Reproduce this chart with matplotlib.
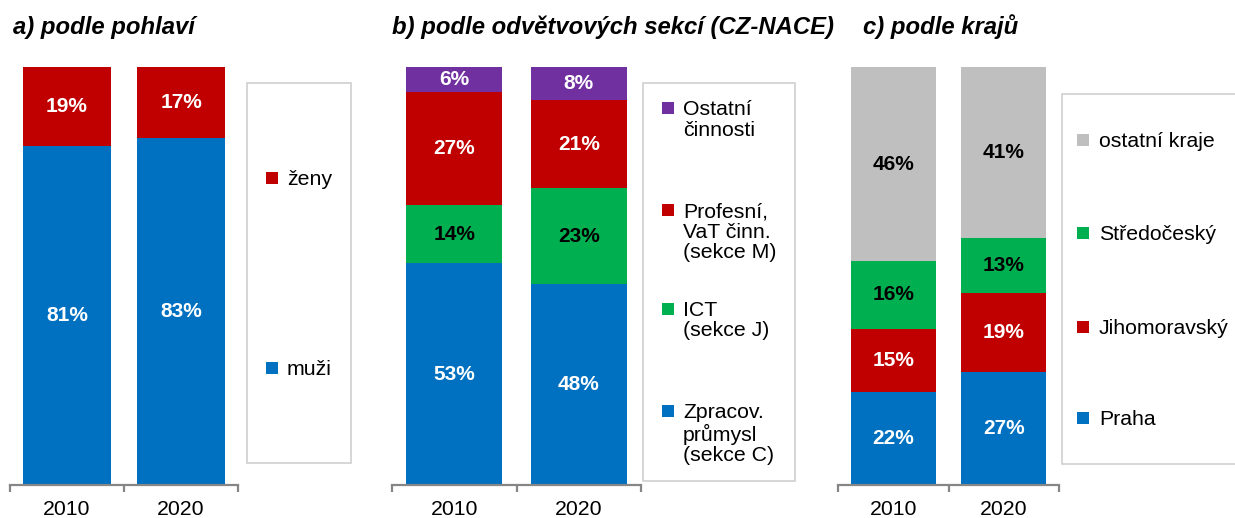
import matplotlib
matplotlib.use("Agg")
import matplotlib.pyplot as plt
from matplotlib.patches import Rectangle

plt.rcParams['font.family'] = ['Liberation Sans', 'DejaVu Sans']

years = ["2010", "2020"]

# a) by gender (bottom -> top)
a_labels = ["muži", "ženy"]
a_values = [[81, 83], [19, 17]]

# b) by NACE section (bottom -> top)
b_labels = ["Zpracov.\nprůmysl\n(sekce C)", "ICT\n(sekce J)",
            "Profesní,\nVaT činn.\n(sekce M)", "Ostatní\nčinnosti"]
b_values = [[53, 48], [14, 23], [27, 21], [6, 8]]

# c) by region (bottom -> top)
c_labels = ["Praha", "Jihomoravský", "Středočeský", "ostatní kraje"]
c_values = [[22, 27], [15, 19], [16, 13], [46, 41]]

titles = ["a) podle pohlaví", "b) podle odvětvových sekcí (CZ-NACE)", "c) podle krajů"]

BLUE = "#0070C0"
RED = "#C00000"
GREEN = "#00B050"
PURPLE = "#7030A0"
GRAY = "#BFBFBF"

a_colors = [BLUE, RED]
b_colors = [BLUE, GREEN, RED, PURPLE]
c_colors = [BLUE, RED, GREEN, GRAY]
a_txt = ["white", "white"]
b_txt = ["white", "black", "white", "white"]
c_txt = ["white", "white", "black", "black"]

W, H = 1235, 518
fig = plt.figure(figsize=(W / 100, H / 100), dpi=100)


def rect(x0, x1, y0, y1):
    return [x0 / W, 1 - y1 / H, (x1 - x0) / W, (y1 - y0) / H]


def panel(x0, x1, values, colors, txtcolors):
    ax = fig.add_axes(rect(x0, x1, 67, 485))
    n = len(years)
    totals = [sum(v[i] for v in values) for i in range(n)]
    bottoms = [0.0] * n
    for vals, col, tc in zip(values, colors, txtcolors):
        shares = [vals[i] / totals[i] for i in range(n)]
        ax.bar(range(n), shares, bottom=bottoms, width=0.77, color=col,
               edgecolor='none', zorder=2)
        for i in range(n):
            ax.text(i, bottoms[i] + shares[i] / 2, f"{vals[i]}%", ha='center',
                    va='center', color=tc, fontsize=15, fontweight='bold', zorder=3)
        bottoms = [bottoms[i] + shares[i] for i in range(n)]
    ax.set_xlim(-0.5, n - 0.5)
    ax.set_ylim(0, 1)
    for s in ['top', 'left', 'right']:
        ax.spines[s].set_visible(False)
    ax.spines['bottom'].set_color('#868686')
    ax.spines['bottom'].set_linewidth(1.6)
    ax.set_yticks([])
    ax.set_xticks(range(n))
    ax.set_xticklabels(years, fontsize=15.3, color='#000000')
    ax.tick_params(axis='x', which='major', length=0, pad=11)
    ax.set_xticks([i - 0.5 for i in range(n + 1)], minor=True)
    ax.tick_params(axis='x', which='minor', length=5, width=1.6, color='#868686',
                   direction='out')
    ax.patch.set_alpha(0)
    return ax


panel(10, 238, a_values, a_colors, a_txt)
panel(392, 641, b_values, b_colors, b_txt)
panel(838, 1059, c_values, c_colors, c_txt)

# overlay in pixel coordinates for titles and legends
ov = fig.add_axes([0, 0, 1, 1])
ov.set_xlim(0, W)
ov.set_ylim(H, 0)
ov.axis('off')
ov.patch.set_alpha(0)

for tx, t in zip([13, 392, 863], titles):
    ov.text(tx, 34, t, fontsize=17.2, fontweight='bold', fontstyle='italic',
            va='baseline', ha='left')


def legend_box(bx0, bx1, by0, by1, labels, colors, ys, mx, tx):
    ov.add_patch(Rectangle((bx0, by0), bx1 - bx0, by1 - by0, facecolor='white',
                           edgecolor='#D0D0D0', linewidth=1.2))
    for lab, col, y in zip(labels, colors, ys):
        ov.add_patch(Rectangle((mx - 6, y - 6), 12, 12, facecolor=col,
                               edgecolor='none'))
        ov.text(tx, y - 8, lab, fontsize=15.3, va='top', ha='left',
                linespacing=1.1)


legend_box(247, 351, 83, 463, a_labels[::-1], a_colors[::-1], [178, 368], 271.5, 287)
legend_box(643, 795, 83, 481, b_labels[::-1], b_colors[::-1], [108, 210, 309, 411], 667.5, 683)
legend_box(1062, 1240, 94, 464, c_labels[::-1], c_colors[::-1], [140, 233, 327, 418], 1083, 1099)

fig.savefig("out.png", dpi=100)
